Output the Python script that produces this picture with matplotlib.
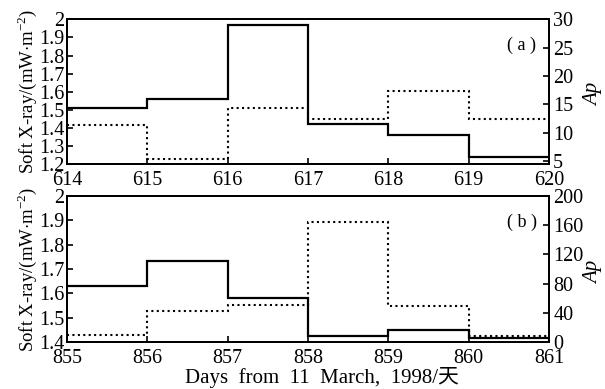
import matplotlib
matplotlib.use("Agg")
import numpy as np
import matplotlib.pyplot as plt

plt.rcParams["font.family"] = ["Liberation Serif", "Noto Sans CJK SC"]
plt.rcParams["mathtext.fontset"] = "custom"
plt.rcParams["mathtext.rm"] = "Liberation Serif"

# ── data ─────────────────────────────────────────────────────────────────────
days_a = [614, 615, 616, 617, 618, 619, 620]
xray_a = [1.51, 1.56, 1.97, 1.42, 1.36, 1.24]
ap_a = [11.3, 5.4, 14.3, 12.4, 17.3, 12.4]

days_b = [855, 856, 857, 858, 859, 860, 861]
xray_b = [1.63, 1.732, 1.579, 1.425, 1.451, 1.416]
ap_b = [9, 42, 51, 164, 49, 8]

ylab = r"Soft X-ray/(mW$\cdot$m$^{-2}$)"
FS = 14.5
dotted = (0, (1, 1.6))

fig = plt.figure(figsize=(6.05, 3.89), dpi=100)
ax_a = fig.add_axes([0.1107, 0.5776, 0.7967, 0.3728])
ax_b = fig.add_axes([0.1107, 0.1208, 0.7967, 0.3753])


def panel(ax, days, xray, ap, ylim_l, yticks_l, ylim_r, yticks_r, tag):
    ax.stairs(xray, days, baseline=None, color="k", lw=1.6)
    ax.set_xlim(days[0], days[-1])
    ax.set_ylim(*ylim_l)
    ax.set_xticks(days)
    ax.set_yticks(yticks_l)
    ax.set_yticklabels([f"{v:g}" for v in yticks_l])
    ax.tick_params(direction="in", labelsize=FS, length=4, width=1.2, pad=2)
    ax.tick_params(axis="x", pad=5)
    ax.set_ylabel(ylab, fontsize=13.5, labelpad=0)
    for s in ax.spines.values():
        s.set_linewidth(1.4)

    ax2 = ax.twinx()
    ax2.stairs(ap, days, baseline=None, color="k", lw=1.5, linestyle=dotted)
    ax2.set_ylim(*ylim_r)
    ax2.set_yticks(yticks_r)
    ax2.tick_params(direction="in", labelsize=FS, length=4, width=1.2, pad=3)
    ax2.set_ylabel("Ap", fontsize=15, style="italic", rotation=90,
                   ha="center", va="center")
    ax2.yaxis.set_label_coords(1.092, 0.48)
    for s in ax2.spines.values():
        s.set_linewidth(1.4)
    ax.text(0.944, 0.82, tag, transform=ax.transAxes, fontsize=13,
            ha="center", va="center")
    return ax2


panel(ax_a, days_a, xray_a, ap_a, (1.2, 2.0), np.round(np.arange(1.2, 2.01, 0.1), 1),
      (4.4, 30), [5, 10, 15, 20, 25, 30], "( a )")
panel(ax_b, days_b, xray_b, ap_b, (1.4, 2.0), np.round(np.arange(1.4, 2.01, 0.1), 1),
      (0, 200), [0, 40, 80, 120, 160, 200], "( b )")

ax_b.set_xlabel("Days  from  11  March,  1998/天", fontsize=15)
ax_b.xaxis.set_label_coords(0.53, -0.17)

fig.savefig("out.png", dpi=100)
